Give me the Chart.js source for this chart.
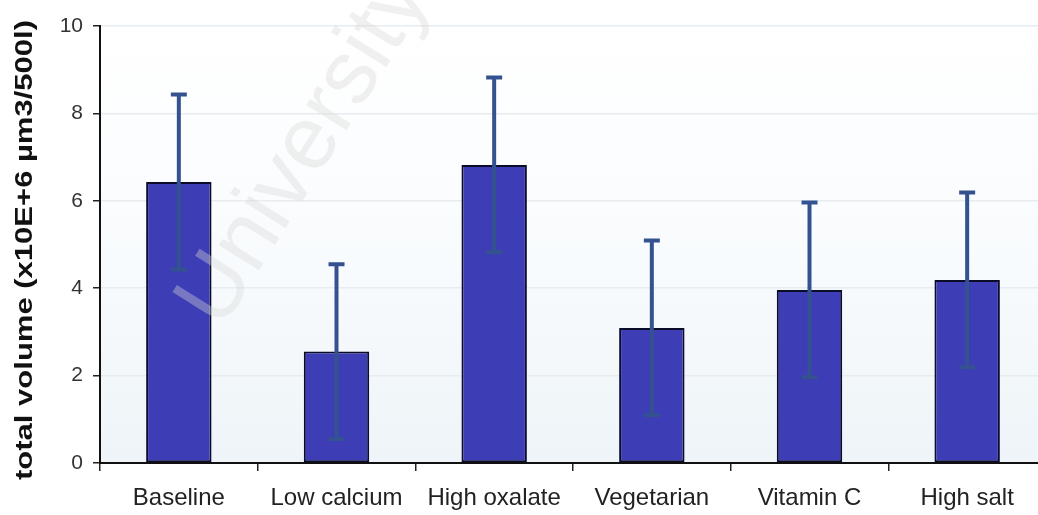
<!DOCTYPE html>
<html>
<head>
<meta charset="utf-8">
<script src="https://cdn.jsdelivr.net/npm/chart.js@4.4.1/dist/chart.umd.min.js"></script>
<style>
  html,body{margin:0;padding:0;background:#fff;overflow:hidden}
  #wrap{position:relative;width:1046px;height:515px}
</style>
</head>
<body>
<div id="wrap"><canvas id="c"></canvas></div>
<script>
/* datos */
const dietas = ['Baseline','Low calcium','High oxalate','Vegetarian','Vitamin C','High salt'];
const volMedio = [6.43, 2.55, 6.82, 3.09, 3.96, 4.19];
const volError = [2.0, 2.0, 2.0, 2.0, 2.0, 2.0];
const yTicks = [0, 2, 4, 6, 8, 10];
const tituloY = 'total volume (x10E+6 µm3/500l)';

const FONT = '"Liberation Sans", Arial, sans-serif';

/* fondo del área con leve tinte azul abajo */
const fondo = {
  id:'fondo',
  beforeDraw(ch){
    const {ctx, chartArea:a} = ch;
    const g = ctx.createLinearGradient(0, a.top, 0, a.bottom);
    g.addColorStop(0, '#ffffff');
    g.addColorStop(0.55, '#f8fbfd');
    g.addColorStop(1, '#eef4f8');
    ctx.save(); ctx.fillStyle = g;
    ctx.fillRect(a.left, a.top, a.right-a.left, a.bottom-a.top);
    ctx.restore();
  }
};

/* barras de error ±volError */
const errores = {
  id:'errores',
  afterDatasetsDraw(ch){
    const {ctx} = ch, y = ch.scales.y;
    const meta = ch.getDatasetMeta(0);
    ctx.save();
    ctx.strokeStyle = '#34528f'; ctx.lineCap = 'butt';
    meta.data.forEach((bar,i)=>{
      const hi = y.getPixelForValue(volMedio[i]+volError[i]);
      const lo = y.getPixelForValue(volMedio[i]-volError[i]);
      ctx.lineWidth = 4;
      ctx.beginPath(); ctx.moveTo(bar.x, hi); ctx.lineTo(bar.x, lo); ctx.stroke();
      ctx.beginPath(); ctx.moveTo(bar.x-8, hi); ctx.lineTo(bar.x+8, hi);
      ctx.moveTo(bar.x-8, lo); ctx.lineTo(bar.x+8, lo); ctx.stroke();
    });
    ctx.restore();
  }
};

/* título del eje Y, algo estirado como en el original */
const titulo = {
  id:'titulo',
  afterDraw(ch){
    const {ctx} = ch;
    ctx.save();
    ctx.font = 'bold 23px ' + FONT;
    const w = ctx.measureText(tituloY).width;
    ctx.translate(26, 250);
    ctx.rotate(-Math.PI/2);
    ctx.scale(460/w, 1);
    ctx.fillStyle = '#111';
    ctx.textAlign = 'center'; ctx.textBaseline = 'middle';
    ctx.fillText(tituloY, 0, 0);
    ctx.restore();
  }
};

/* marca de agua */
const marca = {
  id:'marca',
  afterDatasetsDraw(ch){
    const {ctx} = ch;
    ctx.save();
    ctx.translate(305, 150);
    ctx.rotate(-58*Math.PI/180);
    ctx.font = '90px ' + FONT;
    ctx.fillStyle = 'rgba(215,215,215,0.38)';
    ctx.textAlign = 'center'; ctx.textBaseline = 'middle';
    ctx.fillText('University', 0, 0);
    ctx.restore();
  }
};

new Chart(document.getElementById('c'), {
  type:'bar',
  data:{labels:dietas, datasets:[{
    data:volMedio, backgroundColor:'#3d3db5', borderColor:'#0b0b2a', borderWidth:2,
    borderSkipped:false, categoryPercentage:1, barPercentage:0.415
  }]},
  options:{
    responsive:true, maintainAspectRatio:false, animation:false,
    layout:{padding:{top:26, right:0, left:0, bottom:0}},
    plugins:{legend:{display:false}, tooltip:{enabled:false}},
    scales:{
      x:{
        grid:{drawOnChartArea:false, drawTicks:true, tickLength:8, tickColor:'#222', lineWidth:1.5},
        border:{color:'#111', width:2},
        ticks:{color:'#222', font:{family:FONT, size:24}, padding:13, maxRotation:0, autoSkip:false},
        afterFit(s){ s.height = 52; }
      },
      y:{
        min:0, max:10,
        afterBuildTicks(s){ s.ticks = yTicks.map(v=>({value:v})); },
        grid:{color:'#e6ecf0', lineWidth:1.5, tickLength:7, tickColor:'#222'},
        border:{color:'#111', width:2},
        ticks:{color:'#333', font:{family:FONT, size:21}, padding:10},
        title:{display:false},
        afterFit(s){ s.width = 100; }
      }
    }
  },
  plugins:[fondo, errores, marca, titulo]
});
</script>
</body>
</html>
